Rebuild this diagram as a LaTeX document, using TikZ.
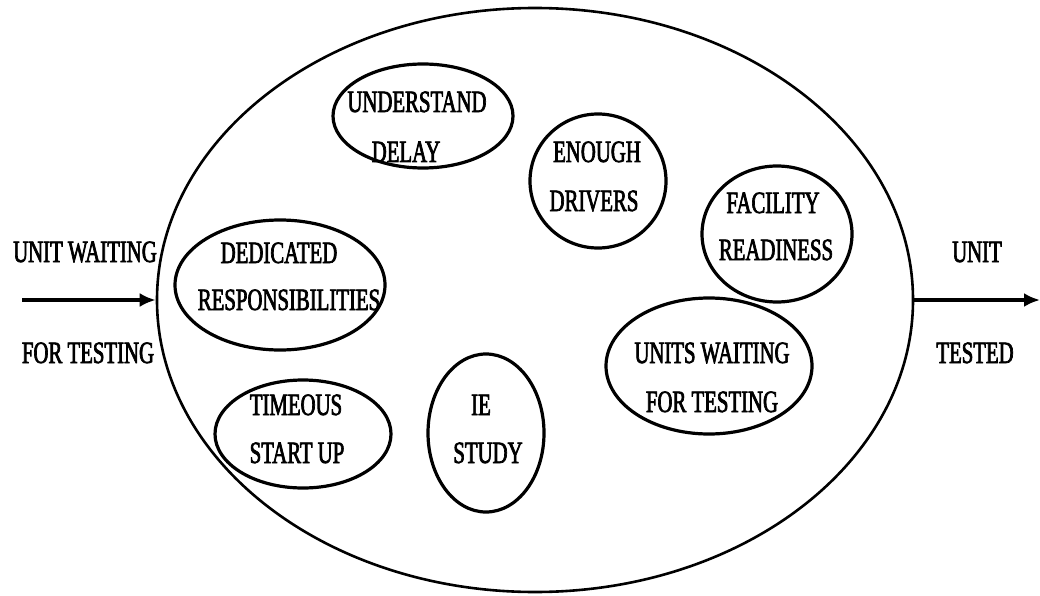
\documentclass[tikz,border=0pt]{standalone}
\usepackage{fontspec}
\usetikzlibrary{shapes.geometric,arrows.meta}
\newfontfamily\lblfont[FakeStretch=0.67,FakeBold=2.2]{Liberation Serif}
\begin{document}
\begin{tikzpicture}[x=1pt,y=-1pt,
  oval/.style={draw,ellipse,line width=3.2pt,inner sep=0pt},
  lbl/.style={font=\lblfont\fontsize{31}{31}\selectfont,anchor=base,inner sep=0pt},
  flow/.style={line width=3.2pt,-{Latex[length=16pt,width=14pt]}}]
\useasboundingbox (0,0) rectangle (1040,596);
% system boundary
\node[oval,line width=2.6pt,minimum width=756pt,minimum height=584pt] (sys) at (535,300) {};
% inner ellipses
\node[oval,minimum width=180pt,minimum height=104pt] (und) at (423,116) {};
\node[oval,minimum width=136pt,minimum height=134pt] (eno) at (598,181) {};
\node[oval,minimum width=150pt,minimum height=136pt] (fac) at (777,234) {};
\node[oval,minimum width=210pt,minimum height=130pt] (ded) at (280,285) {};
\node[oval,minimum width=206pt,minimum height=136pt] (uwt) at (709,366) {};
\node[oval,minimum width=176pt,minimum height=108pt] (tim) at (303,434) {};
\node[oval,minimum width=116pt,minimum height=158pt] (ie) at (486,433) {};
% texts
\node[lbl] (t1) at (417,112) {UNDERSTAND};
\node[lbl] (t2) at (406,162) {DELAY};
\node[lbl] (t3) at (597,162) {ENOUGH};
\node[lbl] (t4) at (594,211) {DRIVERS};
\node[lbl] (t5) at (773,213) {FACILITY};
\node[lbl] (t6) at (776,260) {READINESS};
\node[lbl] (t7) at (279,263) {DEDICATED};
\node[lbl] (t8) at (289,310) {RESPONSIBILITIES};
\node[lbl] (t9) at (712,363) {UNITS WAITING};
\node[lbl] (t10) at (712,412) {FOR TESTING};
\node[lbl] (t11) at (296,415) {TIMEOUS};
\node[lbl] (t12) at (297,463) {START UP};
\node[lbl] (t13) at (481,415) {IE};
\node[lbl] (t14) at (488,463) {STUDY};
\node[lbl] (in1) at (85,262) {UNIT WAITING};
\node[lbl] (in2) at (88,363) {FOR TESTING};
\node[lbl] (out1) at (977,262) {UNIT};
\node[lbl] (out2) at (975,363) {TESTED};
% flows
\coordinate (src) at (22,300);
\coordinate (dst) at (1040,300);
\draw[flow] (src) -- (sys.west);
\draw[flow] (sys.east) -- (dst);
\end{tikzpicture}
\end{document}
